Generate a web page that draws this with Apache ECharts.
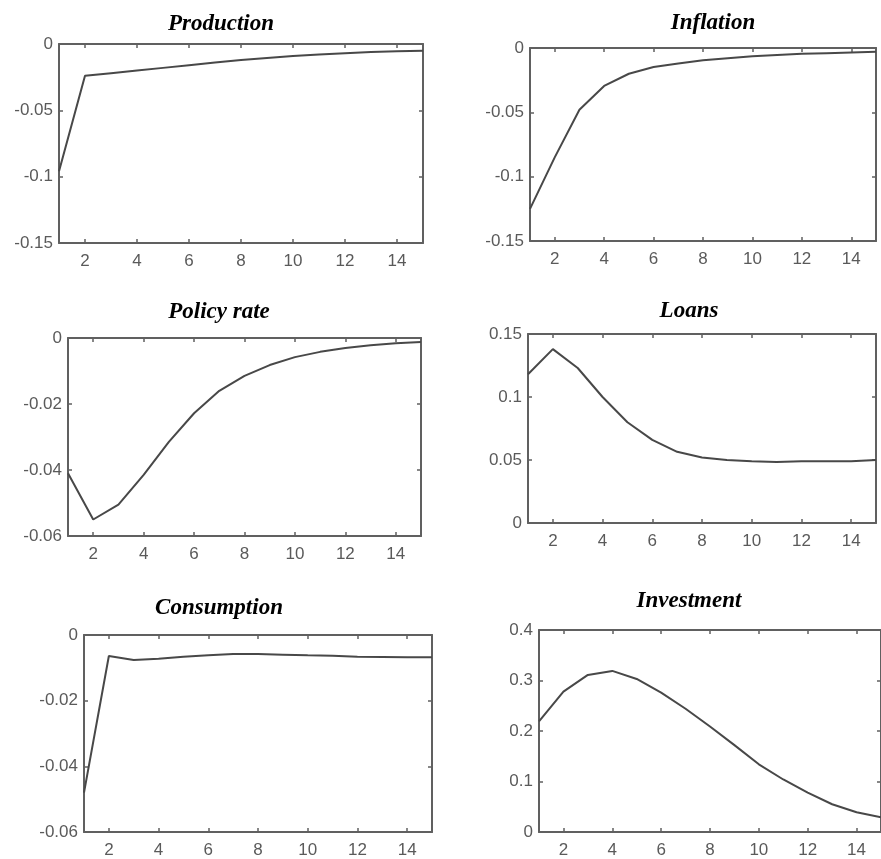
<!DOCTYPE html>
<html><head><meta charset="utf-8">
<script src="https://cdn.jsdelivr.net/npm/echarts@6/dist/echarts.min.js"></script>
<style>html,body{margin:0;padding:0;background:#fff}#c{width:881px;height:859px}</style>
</head><body><div id="c"></div>
<script>
const periods = [1,2,3,4,5,6,7,8,9,10,11,12,13,14,15];
const xTickLabels = [2,4,6,8,10,12,14];
const titles = ['Production','Inflation','Policy rate','Loans','Consumption','Investment'];
const production = [-0.096,-0.024,-0.022,-0.020,-0.018,-0.016,-0.014,-0.012,-0.0105,-0.009,-0.008,-0.007,-0.006,-0.0055,-0.005];
const inflation = [-0.125,-0.085,-0.048,-0.0295,-0.020,-0.0148,-0.012,-0.0095,-0.008,-0.0065,-0.0055,-0.0045,-0.004,-0.0035,-0.003];
const policyRate = [-0.041,-0.055,-0.0505,-0.0415,-0.0315,-0.0228,-0.016,-0.0115,-0.0082,-0.0058,-0.0042,-0.003,-0.0022,-0.0016,-0.0012];
const loans = [0.118,0.138,0.123,0.100,0.080,0.066,0.0565,0.052,0.050,0.049,0.0485,0.049,0.049,0.049,0.050];
const consumption = [-0.048,-0.0064,-0.0076,-0.0072,-0.0066,-0.0062,-0.0058,-0.0058,-0.006,-0.0062,-0.0063,-0.0066,-0.0067,-0.0068,-0.0068];
const investment = [0.219,0.278,0.311,0.319,0.303,0.276,0.244,0.209,0.172,0.134,0.104,0.078,0.055,0.039,0.029];
const yRanges = [[-0.15,0,0.05],[-0.15,0,0.05],[-0.06,0,0.02],[0,0.15,0.05],[-0.06,0,0.02],[0,0.4,0.1]];
const seriesData = [production,inflation,policyRate,loans,consumption,investment];

const grids = [
  {left:59, top:44, width:364, height:199},
  {left:530, top:48, width:346, height:193},
  {left:68, top:338, width:353, height:198},
  {left:528, top:334, width:348, height:189},
  {left:84, top:635, width:348, height:197},
  {left:539, top:630, width:349, height:203}
];
const titleCenters = [[221,13],[713,12],[219,301],[689,300],[219,597],[689,590]];

const axisColor = '#606060';
const labelStyle = {color:'#5a5a5a', fontSize:17, fontFamily:'Liberation Sans'};
const option = {animation:false, backgroundColor:'#fff', title:[], grid:[], xAxis:[], yAxis:[], series:[]};
grids.forEach((g,i)=>{
  option.grid.push({left:g.left, top:g.top, width:g.width, height:g.height, show:false, containLabel:false});
  option.title.push({text:titles[i], left:titleCenters[i][0], top:titleCenters[i][1], textAlign:'center', padding:0,
    textStyle:{fontFamily:'Liberation Serif', fontStyle:'italic', fontWeight:'bold', fontSize:23, color:'#000'}});
  const xBase = {type:'value', gridIndex:i, min:1, max:15,
    axisLine:{show:true, onZero:false, lineStyle:{color:axisColor, width:2}},
    splitLine:{show:false}};
  option.xAxis.push(Object.assign({}, xBase, {position:'bottom',
    axisTick:{show:true, inside:true, length:4, customValues:xTickLabels, lineStyle:{color:axisColor, width:1.5}},
    axisLabel:Object.assign({show:true, customValues:xTickLabels, margin:10}, labelStyle)}));
  option.xAxis.push(Object.assign({}, xBase, {position:'top',
    axisTick:{show:true, inside:true, length:4, customValues:xTickLabels, lineStyle:{color:axisColor, width:1.5}},
    axisLabel:{show:false}}));
  const [mn,mx,iv] = yRanges[i];
  const yBase = {type:'value', gridIndex:i, min:mn, max:mx, interval:iv,
    axisLine:{show:true, onZero:false, lineStyle:{color:axisColor, width:2}},
    splitLine:{show:false}};
  option.yAxis.push(Object.assign({}, yBase, {position:'left',
    axisTick:{show:true, inside:true, length:4, lineStyle:{color:axisColor, width:1.5}},
    axisLabel:Object.assign({show:true, margin:6}, labelStyle)}));
  option.yAxis.push(Object.assign({}, yBase, {position:'right',
    axisTick:{show:true, inside:true, length:4, lineStyle:{color:axisColor, width:1.5}},
    axisLabel:{show:false}}));
  option.series.push({type:'line', xAxisIndex:2*i, yAxisIndex:2*i, showSymbol:false, symbol:'none',
    data: periods.map((p,k)=>[p, seriesData[i][k]]),
    lineStyle:{color:'#484848', width:2}});
});
echarts.init(document.getElementById('c'), null, {renderer:'canvas'}).setOption(option);
</script></body></html>
